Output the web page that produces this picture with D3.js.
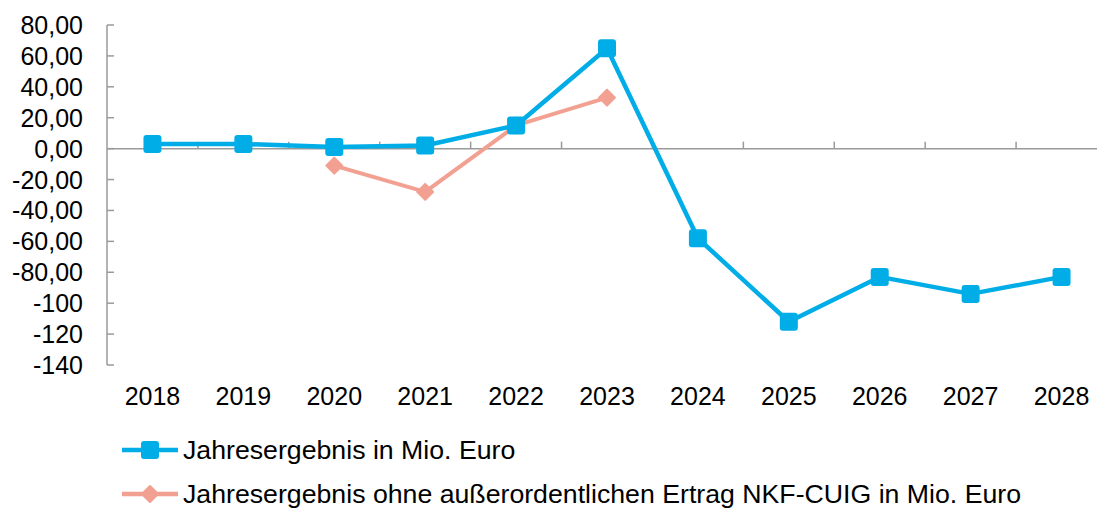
<!DOCTYPE html>
<html>
<head>
<meta charset="utf-8">
<script src="https://cdn.jsdelivr.net/npm/d3@7"></script>
<style>
  body { margin: 0; background: #fff; }
  svg text { font-family: "Liberation Sans", Arial, sans-serif; fill: #000; }
</style>
</head>
<body>
<svg id="chart" width="1097" height="508"></svg>
<script>
const years = ["2018", "2019", "2020", "2021", "2022", "2023", "2024", "2025", "2026", "2027", "2028"];
const jahresergebnis = [3, 3, 1, 2, 15, 65, -58, -112, -83, -94, -83];
const ohneErtrag = [null, null, -11, -28, 15, 33, null, null, null, null, null];
const yTicks = [80, 60, 40, 20, 0, -20, -40, -60, -80, -100, -120, -140];
const yTickLabels = ["80,00", "60,00", "40,00", "20,00", "0,00", "-20,00", "-40,00", "-60,00", "-80,00", "-100", "-120", "-140"];
const seriesNames = ["Jahresergebnis in Mio. Euro", "Jahresergebnis ohne außerordentlichen Ertrag NKF-CUIG in Mio. Euro"];

const blue = "#00ADE6";
const salmon = "#F2A091";
const axisGrey = "#9a9a9a";

const svg = d3.select("#chart");
const plotLeft = 107, plotTop = 25, plotBottom = 365;

const x = d3.scaleBand().domain(years).range([plotLeft, 1107]).padding(0);
const y = d3.scaleLinear().domain([-140, 80]).range([plotBottom, plotTop]);
const cx = d => x(d) + x.bandwidth() / 2;

// y axis
const yAxis = svg.append("g").attr("transform", `translate(${plotLeft},0)`);
yAxis.append("line")
    .attr("y1", y(80)).attr("y2", y(-140))
    .attr("stroke", axisGrey).attr("stroke-width", 1.5);
yAxis.selectAll(".tick")
    .data(yTicks)
    .join("line")
    .attr("class", "tick")
    .attr("x1", 0).attr("x2", 7)
    .attr("y1", d => y(d)).attr("y2", d => y(d))
    .attr("stroke", axisGrey).attr("stroke-width", 1.5);
svg.append("g").selectAll("text")
    .data(yTicks)
    .join("text")
    .attr("x", 83)
    .attr("y", d => y(d))
    .attr("dy", "0.36em")
    .attr("text-anchor", "end")
    .style("font-size", "25px")
    .text((d, i) => yTickLabels[i]);

// x axis along zero
const xAxis = svg.append("g");
xAxis.append("line")
    .attr("x1", plotLeft).attr("x2", 1107)
    .attr("y1", y(0)).attr("y2", y(0))
    .attr("stroke", axisGrey).attr("stroke-width", 1.5);
xAxis.selectAll(".tick")
    .data(years.slice(1))
    .join("line")
    .attr("class", "tick")
    .attr("x1", d => x(d)).attr("x2", d => x(d))
    .attr("y1", y(0)).attr("y2", y(0) - 7)
    .attr("stroke", axisGrey).attr("stroke-width", 1.5);
svg.append("g").selectAll("text")
    .data(years)
    .join("text")
    .attr("x", d => cx(d))
    .attr("y", 405)
    .attr("text-anchor", "middle")
    .style("font-size", "25px")
    .text(d => d);

// lines
const line = d3.line()
    .defined(d => d.v != null)
    .x(d => cx(d.year))
    .y(d => y(d.v));

const blueData = years.map((yr, i) => ({ year: yr, v: jahresergebnis[i] }));
const salmonData = years.map((yr, i) => ({ year: yr, v: ohneErtrag[i] }));

svg.append("path")
    .datum(salmonData)
    .attr("d", line)
    .attr("fill", "none")
    .attr("stroke", salmon)
    .attr("stroke-width", 4)
    .attr("stroke-linejoin", "round");

const diamond = (g, px, py, s) => g.append("path")
    .attr("d", `M${px},${py - s}L${px + s},${py}L${px},${py + s}L${px - s},${py}Z`)
    .attr("fill", salmon)
    .attr("stroke", salmon)
    .attr("stroke-width", 2)
    .attr("stroke-linejoin", "round");

const salmonMarks = svg.append("g");
salmonData.filter(d => d.v != null).forEach(d => diamond(salmonMarks, cx(d.year), y(d.v), 8));

svg.append("path")
    .datum(blueData)
    .attr("d", line)
    .attr("fill", "none")
    .attr("stroke", blue)
    .attr("stroke-width", 4.5)
    .attr("stroke-linejoin", "round");

svg.append("g").selectAll("rect")
    .data(blueData)
    .join("rect")
    .attr("x", d => cx(d.year) - 9)
    .attr("y", d => y(d.v) - 9)
    .attr("width", 18).attr("height", 18)
    .attr("rx", 3)
    .attr("fill", blue);

// legend
const legend = svg.append("g");
const legendY = [450, 494];
const colors = [blue, salmon];
seriesNames.forEach((name, i) => {
    const ly = legendY[i];
    legend.append("line")
        .attr("x1", 122).attr("x2", 178)
        .attr("y1", ly).attr("y2", ly)
        .attr("stroke", colors[i]).attr("stroke-width", 4.5);
    if (i === 0) {
        legend.append("rect")
            .attr("x", 141).attr("y", ly - 9)
            .attr("width", 18).attr("height", 18)
            .attr("rx", 3).attr("fill", blue);
    } else {
        diamond(legend, 150, ly, 8);
    }
    legend.append("text")
        .attr("x", 183)
        .attr("y", ly)
        .attr("dy", "0.34em")
        .style("font-size", "26.7px")
        .text(name);
});
</script>
</body>
</html>
